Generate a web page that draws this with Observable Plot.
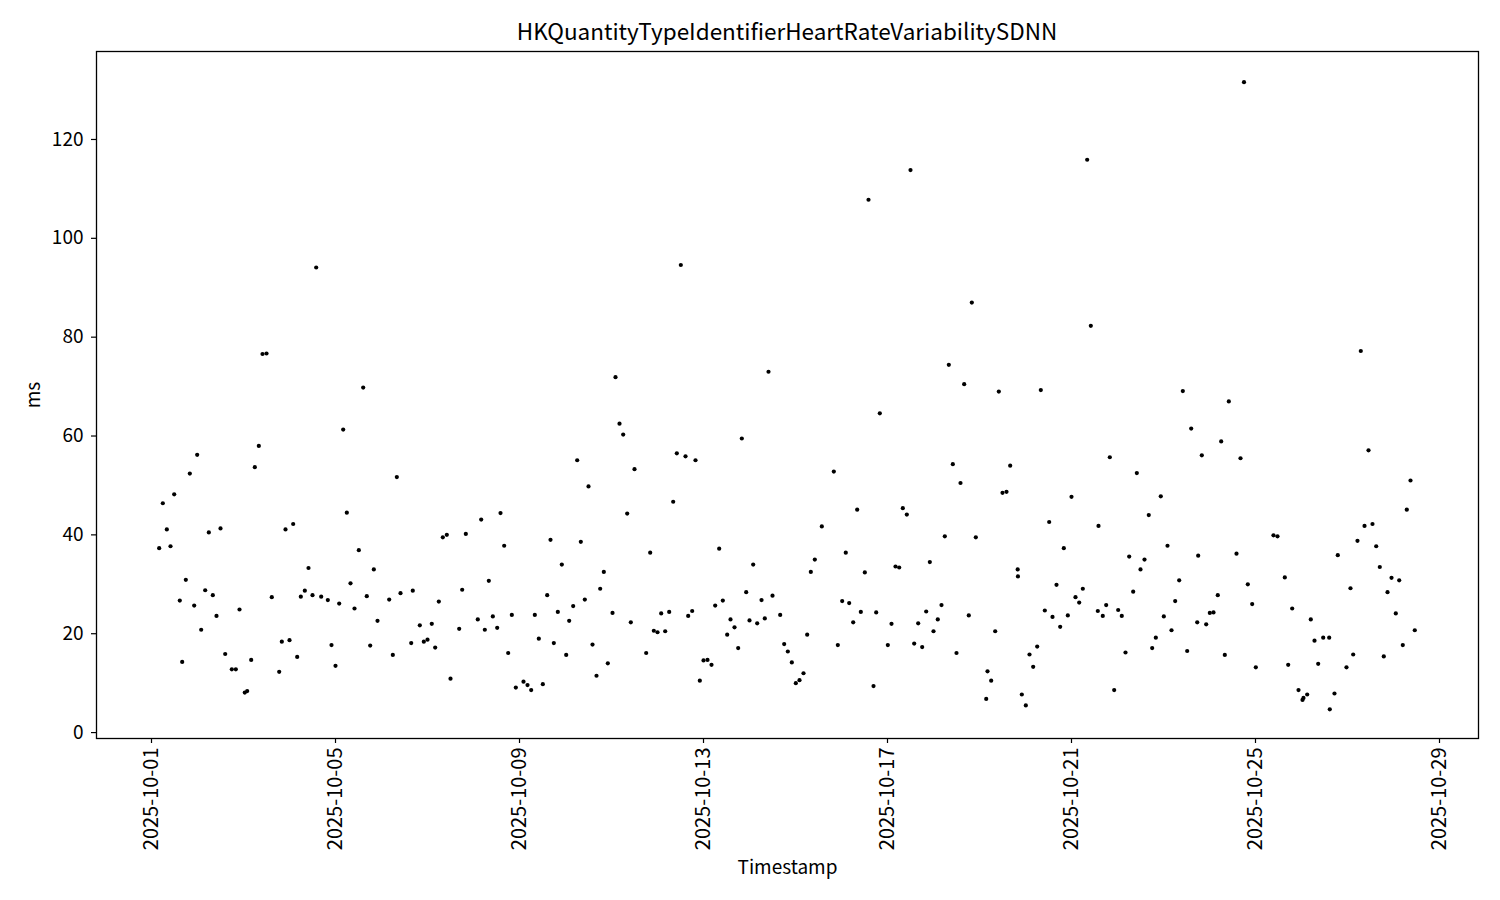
<!DOCTYPE html>
<html><head><meta charset="utf-8">
<script src="https://cdn.jsdelivr.net/npm/d3@7"></script>
<script src="https://cdn.jsdelivr.net/npm/@observablehq/plot@0.6"></script>
<style>
body{margin:0;background:#fff;font-family:"Noto Sans CJK SC","Noto Sans",sans-serif;color:#000;}
#title{box-sizing:border-box;height:46px;padding-top:17px;line-height:26px;font-size:22.5px;text-align:center;width:1574px;margin-left:0;}
#title span{display:inline-block;}
#chart svg{display:block;}
</style></head><body>
<div id="title"><span>HKQuantityTypeIdentifierHeartRateVariabilitySDNN</span></div>
<div id="chart"></div>
<script>
const chartTitle = "HKQuantityTypeIdentifierHeartRateVariabilitySDNN";
const xLabel = "Timestamp";
const yLabel = "ms";
const startDate = "2025-10-01T00:00:00Z";
const xDomain = ["2025-09-29T19:18:00Z", "2025-10-29T20:21:00Z"];
const yDomain = [-1.2, 137.8];
const xTicks = ["2025-10-01","2025-10-05","2025-10-09","2025-10-13","2025-10-17","2025-10-21","2025-10-25","2025-10-29"];
const yTicks = [0, 20, 40, 60, 80, 100, 120];

// days since 2025-10-01 00:00 UTC
const dayOffsets = [
0.167,0.246,0.333,0.413,0.493,0.615,0.667,0.746,0.833,0.928,
0.993,1.080,1.167,1.246,1.333,1.413,1.500,1.602,1.746,1.833,
1.913,2.028,2.080,2.167,2.246,2.333,2.413,2.500,2.615,2.776,
2.833,2.913,3.000,3.080,3.167,3.246,3.333,3.413,3.500,3.580,
3.689,3.833,3.913,4.000,4.080,4.167,4.246,4.326,4.413,4.507,
4.602,4.680,4.754,4.833,4.913,5.167,5.246,5.333,5.413,5.646,
5.680,5.833,5.920,6.000,6.093,6.167,6.246,6.333,6.420,6.500,
6.689,6.754,6.833,7.093,7.167,7.246,7.333,7.420,7.515,7.587,
7.667,7.754,7.833,7.920,8.087,8.174,8.254,8.333,8.420,8.507,
8.602,8.674,8.746,8.833,8.920,9.015,9.080,9.167,9.254,9.333,
9.420,9.500,9.587,9.674,9.754,9.833,9.920,10.022,10.087,10.174,
10.254,10.341,10.420,10.500,10.754,10.841,10.920,11.000,11.080,11.167,
11.254,11.341,11.420,11.507,11.609,11.667,11.754,11.826,11.920,12.000,
12.087,12.174,12.254,12.341,12.420,12.515,12.587,12.674,12.754,12.833,
12.928,13.000,13.080,13.167,13.261,13.333,13.413,13.500,13.667,13.754,
13.833,13.920,14.007,14.087,14.174,14.254,14.333,14.420,14.572,14.833,
14.920,15.015,15.093,15.167,15.254,15.341,15.420,15.507,15.587,15.696,
15.754,15.833,16.007,16.087,16.174,16.254,16.333,16.420,16.500,16.580,
16.667,16.754,16.841,16.920,17.000,17.093,17.174,17.246,17.333,17.420,
17.500,17.587,17.667,17.767,17.833,17.920,18.146,18.174,18.254,18.341,
18.420,18.500,18.587,18.667,18.830,18.836,18.920,19.007,19.087,19.167,
19.254,19.333,19.420,19.515,19.587,19.674,19.754,19.833,19.920,20.000,
20.087,20.167,20.246,20.341,20.420,20.572,20.587,20.680,20.754,20.833,
20.928,21.015,21.093,21.174,21.254,21.341,21.420,21.500,21.587,21.680,
21.754,21.833,21.941,22.007,22.087,22.174,22.254,22.341,22.420,22.515,
22.602,22.733,22.754,22.833,22.928,23.007,23.087,23.180,23.254,23.333,
23.420,23.587,23.674,23.750,23.833,23.928,24.007,24.391,24.478,24.637,
24.711,24.798,24.935,25.022,25.043,25.124,25.202,25.283,25.363,25.472,
25.602,25.615,25.717,25.789,25.978,26.065,26.124,26.217,26.289,26.370,
26.457,26.543,26.624,26.702,26.789,26.870,26.957,27.050,27.124,27.202,
27.289,27.370,27.463
];

// HRV SDNN (ms)
const hrvValues = [
37.3,46.4,41.1,37.7,48.2,26.7,14.3,30.9,52.4,25.7,
56.2,20.8,28.8,40.5,27.8,23.6,41.3,15.9,12.8,12.8,
24.9,8.1,8.4,14.7,53.7,58.0,76.6,76.7,27.4,12.3,
18.4,41.1,18.7,42.2,15.3,27.5,28.7,33.3,27.8,94.1,
27.5,26.8,17.7,13.5,26.1,61.3,44.5,30.2,25.1,36.9,
69.8,27.6,17.6,33.0,22.6,26.9,15.7,51.7,28.2,18.1,
28.7,21.7,18.4,18.8,22.0,17.2,26.5,39.5,40.0,10.9,
21.0,28.9,40.2,22.9,43.1,20.8,30.7,23.5,21.2,44.4,
37.8,16.1,23.8,9.1,10.3,9.6,8.6,23.8,19.0,9.8,
27.8,39.0,18.1,24.4,34.0,15.7,22.6,25.6,55.1,38.6,
26.9,49.8,17.8,11.5,29.1,32.5,14.0,24.2,71.9,62.5,
60.3,44.3,22.3,53.3,16.1,36.4,20.6,20.3,24.1,20.5,
24.4,46.7,56.5,94.6,55.9,23.6,24.6,55.1,10.5,14.6,
14.7,13.7,25.7,37.2,26.7,19.8,22.9,21.3,17.1,59.5,
28.4,22.7,34.0,22.1,26.8,23.1,73.0,27.7,23.8,17.9,
16.4,14.2,10.0,10.6,12.0,19.8,32.5,35.0,41.7,52.8,
17.7,26.6,36.4,26.2,22.3,45.1,24.4,32.4,107.8,9.4,
24.3,64.6,17.7,22.0,33.6,33.4,45.4,44.1,113.8,18.0,
22.1,17.3,24.5,34.5,20.5,22.9,25.8,39.7,74.4,54.3,
16.1,50.5,70.5,23.7,87.0,39.5,6.8,12.4,10.5,20.5,
69.0,48.5,48.7,54.0,33.0,31.6,7.7,5.5,15.8,13.3,
17.4,69.3,24.7,42.6,23.4,29.9,21.4,37.3,23.7,47.7,
27.4,26.3,29.1,115.9,82.3,24.6,41.8,23.6,25.8,55.7,
8.6,24.8,23.6,16.2,35.6,28.5,52.5,33.0,35.0,44.0,
17.1,19.2,47.8,23.5,37.8,20.7,26.6,30.8,69.1,16.5,
61.5,22.3,35.8,56.1,21.9,24.2,24.3,27.8,58.9,15.7,
67.0,36.2,55.5,131.6,30.0,26.0,13.2,39.9,39.7,31.4,
13.7,25.1,8.6,6.6,7.0,7.7,22.9,18.6,13.9,19.2,
19.2,4.7,7.9,35.9,13.2,29.2,15.8,38.8,77.2,41.8,
57.1,42.2,37.7,33.5,15.4,28.4,31.3,24.1,30.8,17.7,
45.1,51.0,20.7
];

const t0 = new Date(startDate).getTime();
const data = dayOffsets.map((d, i) => ({ t: new Date(t0 + d * 864e5), v: hrvValues[i] }));

const chart = Plot.plot({
  width: 1500,
  height: 854,
  marginTop: 5,
  marginBottom: 162,
  marginLeft: 96,
  marginRight: 22,
  style: { fontFamily: '"Noto Sans CJK SC","Noto Sans",sans-serif', fontSize: "19px", background: "#fff", color: "#000" },
  x: { type: "utc", domain: xDomain.map(s => new Date(s)) },
  y: { domain: yDomain },
  marks: [
    Plot.frame({ stroke: "#000", strokeWidth: 1.3 }),
    Plot.axisX({
      ticks: xTicks.map(s => new Date(s + "T00:00:00Z")),
      tickFormat: d3.utcFormat("%Y-%m-%d"),
      tickRotate: -90, tickSize: 5, tickPadding: 4, label: null, stroke: "#000", strokeWidth: 1.2, fontSize: 20
    }),
    Plot.axisY({ ticks: yTicks, tickSize: 5, tickPadding: 8, label: null, stroke: "#000", strokeWidth: 1.2 }),
    Plot.text([xLabel], { frameAnchor: "bottom", dy: 129, lineAnchor: "middle", fontSize: 19, fill: "#000" }),
    Plot.text([yLabel], { frameAnchor: "left", dx: -63, rotate: -90, textAnchor: "middle", lineAnchor: "middle", fontSize: 19, fill: "#000" }),
    Plot.dot(data, { x: "t", y: "v", r: 2.1, fill: "#000", stroke: "none" })
  ]
});
document.getElementById("chart").appendChild(chart);
</script>
</body></html>
